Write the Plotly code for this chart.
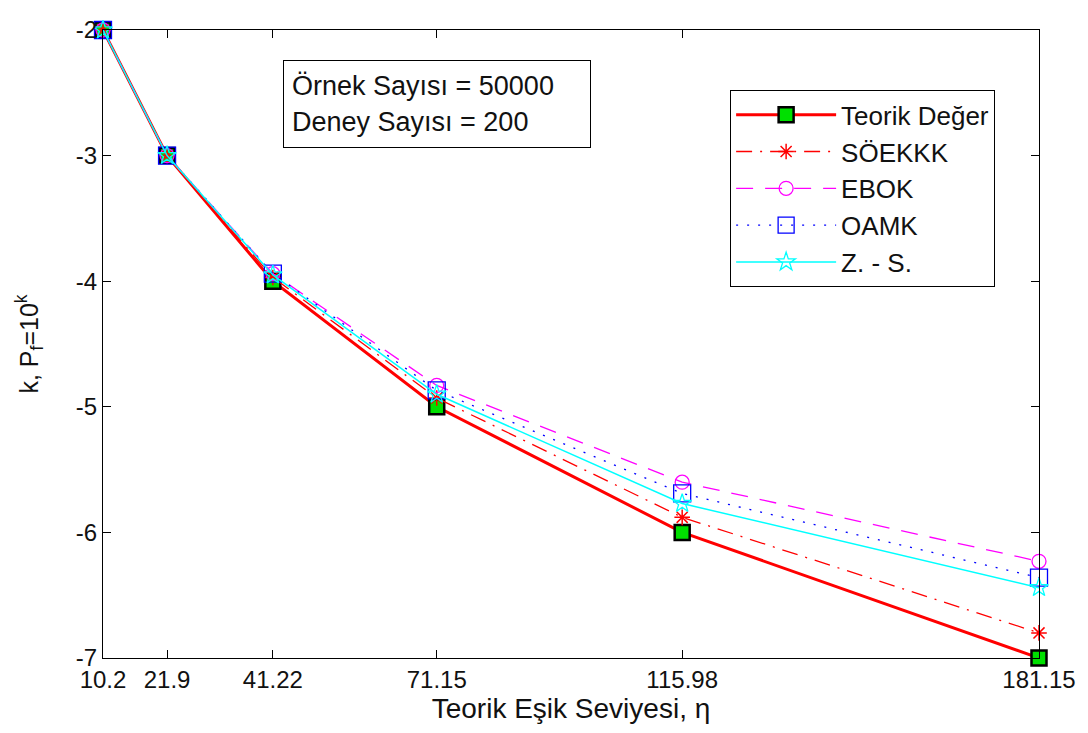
import plotly.graph_objects as go

x_vals = [10.2, 21.9, 41.22, 71.15, 115.98, 181.15]
x_labels = ["10.2", "21.9", "41.22", "71.15", "115.98", "181.15"]
teorik = [-2, -3, -4, -5, -6, -7]
soekkk = [-2, -3, -3.97, -4.93, -5.88, -6.80]
ebok = [-2, -3, -3.94, -4.83, -5.60, -6.23]
oamk = [-2, -3, -3.94, -4.87, -5.69, -6.36]
zs = [-2, -3, -3.95, -4.90, -5.77, -6.44]
y_ticks = [-7, -6, -5, -4, -3, -2]
y_labels = ["-7", "-6", "-5", "-4", "-3", "-2"]

FONT = "Liberation Sans"

fig = go.Figure()
fig.add_trace(go.Scatter(x=x_vals, y=teorik, name="Teorik Değer",
                         mode="lines+markers", cliponaxis=False,
                         line=dict(color="red", width=3),
                         marker=dict(symbol="square", size=15, color="#00e000",
                                     line=dict(color="black", width=2.5))))
fig.add_trace(go.Scatter(x=x_vals, y=soekkk, name="SÖEKKK",
                         mode="lines+markers", cliponaxis=False,
                         line=dict(color="red", width=1.3, dash="16px,8px,2px,8px"),
                         marker=dict(symbol="asterisk-open", size=13,
                                     line=dict(color="red", width=1.5))))
fig.add_trace(go.Scatter(x=x_vals, y=ebok, name="EBOK",
                         mode="lines+markers", cliponaxis=False,
                         line=dict(color="magenta", width=1.3, dash="17px,12px"),
                         marker=dict(symbol="circle-open", size=14,
                                     line=dict(color="magenta", width=1.3))))
fig.add_trace(go.Scatter(x=x_vals, y=oamk, name="OAMK",
                         mode="lines+markers", cliponaxis=False,
                         line=dict(color="blue", width=1.3, dash="2px,9px"),
                         marker=dict(symbol="square-open", size=17,
                                     line=dict(color="blue", width=1.3))))
fig.add_trace(go.Scatter(x=x_vals, y=zs, name="Z. - S.",
                         mode="lines+markers", cliponaxis=False,
                         line=dict(color="cyan", width=1.5),
                         marker=dict(symbol="star-open", size=14,
                                     line=dict(color="cyan", width=1.3))))

fig.add_annotation(xref="paper", yref="paper", x=0.192, y=0.952,
                   xanchor="left", yanchor="top", align="left",
                   text="Örnek Sayısı = 50000<br>Deney Sayısı = 200",
                   showarrow=False, bordercolor="black", borderwidth=1,
                   bgcolor="white", borderpad=8, width=290, height=70,
                   font=dict(family=FONT, size=27, color="#111111"))

fig.update_layout(
    width=1088, height=733,
    margin=dict(l=103, r=42, t=30, b=75),
    paper_bgcolor="white", plot_bgcolor="white",
    font=dict(family=FONT, size=25, color="#111111"),
    legend=dict(x=0.67, y=0.904, xanchor="left", yanchor="top",
                bordercolor="black", borderwidth=1, bgcolor="white",
                font=dict(family=FONT, size=26, color="#111111"),
                tracegroupgap=0, itemwidth=100),
    xaxis=dict(range=[10.2, 181.15], tickvals=x_vals, ticktext=x_labels,
               ticks="inside", ticklen=8, tickcolor="black",
               showline=True, linecolor="black", linewidth=1, mirror="ticks",
               showgrid=False, zeroline=False,
               title=dict(text="Teorik Eşik Seviyesi, η", standoff=6,
                          font=dict(family=FONT, size=28)),
               tickfont=dict(family=FONT, size=24)),
    yaxis=dict(range=[-7, -2], tickvals=y_ticks, ticktext=y_labels,
               ticks="inside", ticklen=8, tickcolor="black",
               showline=True, linecolor="black", linewidth=1, mirror="ticks",
               showgrid=False, zeroline=False,
               title=dict(text="k, P<sub>f</sub>=10<sup>k</sup>", standoff=30,
                          font=dict(family=FONT, size=25)),
               tickfont=dict(family=FONT, size=24)),
)

fig.write_html("out.html")
